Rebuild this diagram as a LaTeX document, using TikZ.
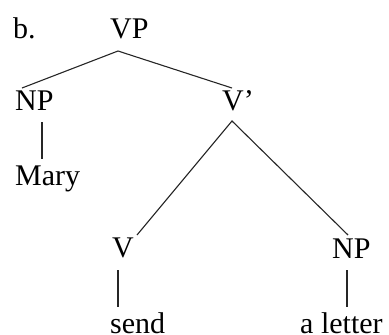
\documentclass[tikz,border=0pt]{standalone}
\usepackage{fontspec}
\setmainfont{Liberation Serif}
\begin{document}
\begin{tikzpicture}[x=1pt,y=-1pt,
  lbl/.style={anchor=base west,inner sep=0pt,font=\fontsize{30}{30}\selectfont},
  edge/.style={line width=1.1pt,draw=black!85}]
\useasboundingbox (0,0) rectangle (389,335);
\node[lbl] (b) at (13,38) {b.};
\node[lbl] (VP) at (110,38) {VP};
\node[lbl] (NPa) at (15,110) {NP};
\node[lbl] (Mary) at (15,185) {Mary};
\node[lbl] (Vbar) at (222,110) {V'};
\node[lbl] (V) at (112,257) {V};
\node[lbl] (NPb) at (332,258) {NP};
\node[lbl] (send) at (110,333) {send};
\node[lbl] (letter) at (300,333) {a letter};
\draw[edge] ([shift={(7,-22)}]NPa.base west) -- ([shift={(8,13)}]VP.base west) -- ([shift={(10,-22)}]Vbar.base west);
\draw[edge] ([shift={(25,-22)}]V.base west) -- ([shift={(10,11)}]Vbar.base west) -- ([shift={(16,-23)}]NPb.base west);
\draw[edge] ([shift={(27,12)}]NPa.base west) -- ([shift={(27,-26)}]Mary.base west);
\draw[edge] ([shift={(6,13)}]V.base west) -- ([shift={(8,-26)}]send.base west);
\draw[edge] ([shift={(15,12)}]NPb.base west) -- ([shift={(47,-26)}]letter.base west);
\end{tikzpicture}
\end{document}
